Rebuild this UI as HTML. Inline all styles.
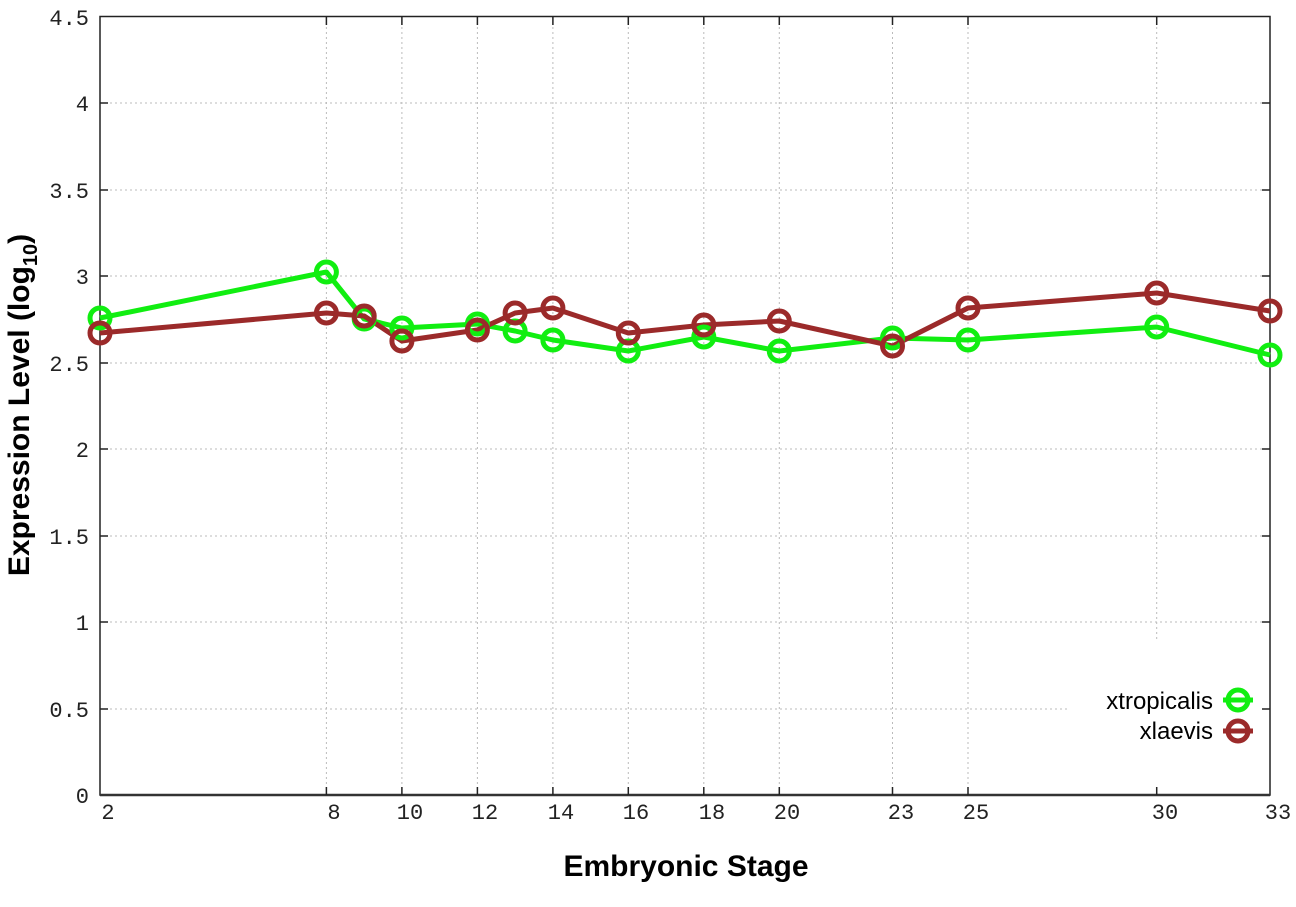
<!DOCTYPE html>
<html><head><meta charset="utf-8"><style>
html,body{margin:0;padding:0;background:#fff;}
svg{display:block;}
</style></head><body>
<svg width="1296" height="907" viewBox="0 0 1296 907" xmlns="http://www.w3.org/2000/svg">
<rect width="1296" height="907" fill="#fff"/>
<g stroke="#bbb" stroke-width="1" stroke-dasharray="2,3">
<line x1="100" x2="1270" y1="103" y2="103"/>
<line x1="100" x2="1270" y1="190" y2="190"/>
<line x1="100" x2="1270" y1="276" y2="276"/>
<line x1="100" x2="1270" y1="363" y2="363"/>
<line x1="100" x2="1270" y1="449" y2="449"/>
<line x1="100" x2="1270" y1="536" y2="536"/>
<line x1="100" x2="1270" y1="622" y2="622"/>
<line x1="100" x2="1070" y1="709" y2="709"/>
<line x1="326.4" x2="326.4" y1="17" y2="795"/>
<line x1="401.9" x2="401.9" y1="17" y2="795"/>
<line x1="477.4" x2="477.4" y1="17" y2="795"/>
<line x1="552.9" x2="552.9" y1="17" y2="795"/>
<line x1="628.3" x2="628.3" y1="17" y2="795"/>
<line x1="703.8" x2="703.8" y1="17" y2="795"/>
<line x1="779.3" x2="779.3" y1="17" y2="795"/>
<line x1="892.5" x2="892.5" y1="17" y2="795"/>
<line x1="968" x2="968" y1="17" y2="795"/>
<line x1="1156.7" x2="1156.7" y1="17" y2="640"/>
</g>
<rect x="100" y="16.5" width="1170" height="778.5" fill="none" stroke="#222" stroke-width="1.5"/>
<line x1="100" x2="1270" y1="795" y2="795" stroke="#333" stroke-width="2.5"/>
<g stroke="#222" stroke-width="1.5">
<path d="M100 103h8M100 190h8M100 276h8M100 363h8M100 449h8M100 536h8M100 622h8M100 709h8"/>
<path d="M1270 103h-8M1270 190h-8M1270 276h-8M1270 363h-8M1270 449h-8M1270 536h-8M1270 622h-8M1270 709h-8"/>
<path d="M326.4 795v-8M401.9 795v-8M477.4 795v-8M552.9 795v-8M628.3 795v-8M703.8 795v-8M779.3 795v-8M892.5 795v-8M968 795v-8M1156.7 795v-8"/>
<path d="M326.4 17v8M401.9 17v8M477.4 17v8M552.9 17v8M628.3 17v8M703.8 17v8M779.3 17v8M892.5 17v8M968 17v8M1156.7 17v8"/>
</g>
<g font-family="Liberation Mono, monospace" font-size="22" fill="#222" text-anchor="end">
<text x="89" y="25">4.5</text>
<text x="89" y="111">4</text>
<text x="89" y="198">3.5</text>
<text x="89" y="284">3</text>
<text x="89" y="371">2.5</text>
<text x="89" y="457">2</text>
<text x="89" y="544">1.5</text>
<text x="89" y="630">1</text>
<text x="89" y="717">0.5</text>
<text x="89" y="803">0</text>
</g>
<g font-family="Liberation Mono, monospace" font-size="22" fill="#222" text-anchor="middle">
<text x="108" y="819">2</text>
<text x="334" y="819">8</text>
<text x="410" y="819">10</text>
<text x="485" y="819">12</text>
<text x="561" y="819">14</text>
<text x="636" y="819">16</text>
<text x="712" y="819">18</text>
<text x="787" y="819">20</text>
<text x="901" y="819">23</text>
<text x="976" y="819">25</text>
<text x="1165" y="819">30</text>
<text x="1278" y="819">33</text>
</g>
<text x="686" y="876" font-family="Liberation Sans, sans-serif" font-weight="bold" font-size="30" text-anchor="middle" fill="#000">Embryonic Stage</text>
<text transform="translate(29,405) rotate(-90)" font-family="Liberation Sans, sans-serif" font-weight="bold" font-size="30" text-anchor="middle" fill="#000">Expression Level (log<tspan font-size="20" dy="8">10</tspan><tspan dy="-8">)</tspan></text>
<g fill="none" stroke-width="5" stroke-linejoin="round">
<polyline stroke="#11ee11" points="100,318 326.4,272 364.2,319 401.9,328 477.4,324 515.1,331 552.9,340 628.3,351 703.8,337 779.3,351 892.5,338 968,340 1156.7,327 1270,355"/>
<polyline stroke="#9b2a2a" points="100,333 326.4,313 364.2,316 401.9,341 477.4,330 515.1,313 552.9,308 628.3,333 703.8,325 779.3,321 892.5,346 968,308 1156.7,293 1270,311"/>
</g>
<g fill="none" stroke-width="5">
<g stroke="#11ee11">
<circle cx="100" cy="318" r="10"/><circle cx="326.4" cy="272" r="10"/><circle cx="364.2" cy="319" r="10"/><circle cx="401.9" cy="328" r="10"/><circle cx="477.4" cy="324" r="10"/><circle cx="515.1" cy="331" r="10"/><circle cx="552.9" cy="340" r="10"/><circle cx="628.3" cy="351" r="10"/><circle cx="703.8" cy="337" r="10"/><circle cx="779.3" cy="351" r="10"/><circle cx="892.5" cy="338" r="10"/><circle cx="968" cy="340" r="10"/><circle cx="1156.7" cy="327" r="10"/><circle cx="1270" cy="355" r="10"/>
</g>
<g stroke="#9b2a2a">
<circle cx="100" cy="333" r="10"/><circle cx="326.4" cy="313" r="10"/><circle cx="364.2" cy="316" r="10"/><circle cx="401.9" cy="341" r="10"/><circle cx="477.4" cy="330" r="10"/><circle cx="515.1" cy="313" r="10"/><circle cx="552.9" cy="308" r="10"/><circle cx="628.3" cy="333" r="10"/><circle cx="703.8" cy="325" r="10"/><circle cx="779.3" cy="321" r="10"/><circle cx="892.5" cy="346" r="10"/><circle cx="968" cy="308" r="10"/><circle cx="1156.7" cy="293" r="10"/><circle cx="1270" cy="311" r="10"/>
</g>
</g>
<g font-family="Liberation Sans, sans-serif" font-size="24" fill="#000" text-anchor="end">
<text x="1213" y="709">xtropicalis</text>
<text x="1213" y="739">xlaevis</text>
</g>
<line x1="1223" x2="1253" y1="700" y2="700" stroke="#11ee11" stroke-width="5"/>
<circle cx="1238" cy="700" r="10" fill="none" stroke="#11ee11" stroke-width="5"/>
<line x1="1223" x2="1253" y1="731" y2="731" stroke="#9b2a2a" stroke-width="5"/>
<circle cx="1238" cy="731" r="10" fill="none" stroke="#9b2a2a" stroke-width="5"/>
</svg>
</body></html>
